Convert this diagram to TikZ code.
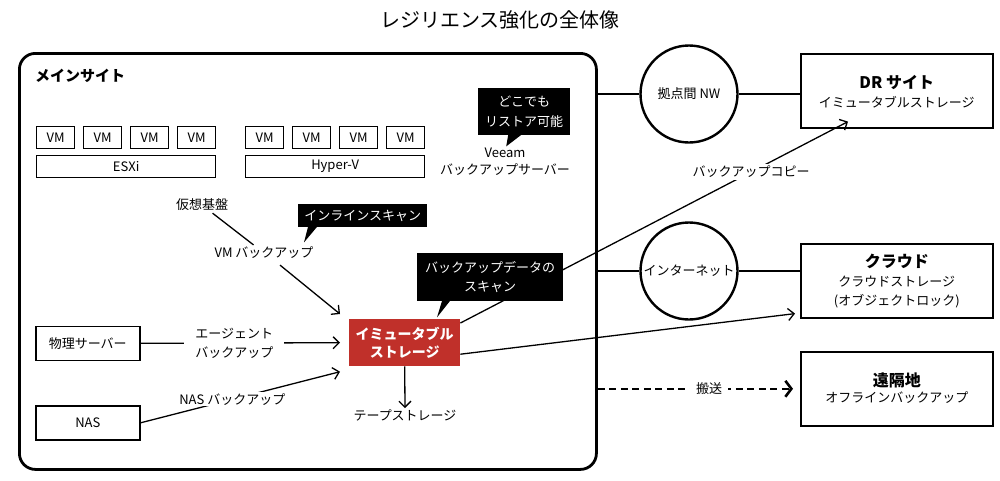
\documentclass[tikz,border=0pt]{standalone}
\usepackage{fontspec}
\setmainfont{Noto Sans CJK JP}
\usetikzlibrary{arrows.meta,calc}
\definecolor{immred}{HTML}{C0302A}
\begin{document}
\begin{tikzpicture}[x=1pt,y=-1pt,
  every node/.style={font=\fontsize{13}{19}\selectfont, inner sep=2pt},
  box/.style={draw, line width=1.4pt, minimum height=22pt, inner sep=0pt, anchor=north west},
  vmbox/.style={box, minimum width=38pt},
  hostbox/.style={box, minimum width=179pt},
  sitebox/.style={draw, line width=1.6pt, minimum width=192pt, minimum height=74pt, anchor=north west},
  srvbox/.style={draw, line width=1.6pt, minimum width=104pt, minimum height=34pt, anchor=north west},
  net/.style={draw, circle, line width=2.4pt, minimum size=97pt, inner sep=0pt},
  callout/.style={fill=black, text=white, align=center, inner sep=0pt, anchor=north west},
  head/.style={font=\bfseries\fontsize{16}{20}\selectfont},
  wlbl/.style={fill=white, align=center, inner sep=2pt},
  arr/.style={line width=1.3pt, -{Straight Barb[length=6pt,width=12pt]}},
  conn/.style={line width=1.3pt},
  netline/.style={line width=2.4pt},
]
\useasboundingbox (0,0) rectangle (1000,480);

% title
\node[font=\fontsize{20}{24}\selectfont] (title) at (500,20) {レジリエンス強化の全体像};

% main site
\node[draw, line width=2.8pt, rounded corners=16pt, minimum width=577pt, minimum height=416pt, anchor=north west] (main) at (18,52) {};
\node[anchor=west, font=\bfseries\fontsize{15}{18}\selectfont] (mainlbl) at (33,76) {メインサイト};

% ESXi
\node[vmbox] (e1) at (36,126) {VM};
\node[vmbox] (e2) at (83,126) {VM};
\node[vmbox] (e3) at (130,126) {VM};
\node[vmbox] (e4) at (177,126) {VM};
\node[hostbox] (esxi) at (36,155) {ESXi};
% Hyper-V
\node[vmbox] (h1) at (245,126) {VM};
\node[vmbox] (h2) at (292,126) {VM};
\node[vmbox] (h3) at (339,126) {VM};
\node[vmbox] (h4) at (386,126) {VM};
\node[hostbox] (hyperv) at (245,155) {Hyper-V};

% Veeam
\node[align=center, font=\fontsize{13}{17}\selectfont] (veeam) at (505,162) {Veeam\\バックアップサーバー};
\node[callout, minimum width=92pt, minimum height=47pt, font=\fontsize{13}{20}\selectfont] (co1) at (478,88) {どこでも\\リストア可能};
\fill ($(co1.south)+(-16,-0.5)$) -- ($(co1.south)+(-3,-0.5)$) -- ($(co1.south)+(-18,11)$) -- cycle;

% VM backup
\node (kaso) at (202,205) {仮想基盤};
\node (vmb) at (264,253) {VM バックアップ};
\node[callout, minimum width=129pt, minimum height=23pt] (co2) at (298,204) {インラインスキャン};
\fill ($(co2.south west)+(10,-0.5)$) -- ($(co2.south west)+(19,-0.5)$) -- ($(co2.south west)+(6,15)$) -- cycle;
\draw[conn] (kaso) -- (vmb);

% immutable storage
\node[fill=immred, text=white, font=\bfseries\fontsize{14}{18}\selectfont, align=center, minimum width=111pt, minimum height=47pt, anchor=north west, inner sep=0pt] (imm) at (349,319) {イミュータブル\\ストレージ};
\draw[arr] ($(vmb.south)+(16,4)$) -- ($(imm.north west)+(-9,-5)$);

% physical server, NAS
\node[srvbox] (phys) at (35,325.5) {物理サーバー};
\node[srvbox] (nas) at (35,405) {NAS};
\draw[arr] (phys.east) -- node[wlbl, pos=0.47, inner xsep=11pt, font=\fontsize{13}{19}\selectfont] {エージェント\\バックアップ} ($(imm.west)+(-9,0)$);
\draw[arr] (nas.east) -- node[wlbl, pos=0.46, inner ysep=1pt] {NAS バックアップ} ($(imm.west)+(-9,29)$);

% tape
\node[inner sep=1pt] (tape) at (405,415) {テープストレージ};
\draw[arr] (imm.south) -- (tape.north);

% remote sites
\node[sitebox] (dr) at (800,53) {};
\node[head] (drh) at ($(dr.north)+(0,29)$) {DR サイト};
\node (drt) at ($(dr.north)+(0,49)$) {イミュータブルストレージ};
\node[sitebox] (cloud) at (800,243) {};
\node[head] (clh) at ($(cloud.north)+(0,18)$) {クラウド};
\node (clt1) at ($(cloud.north)+(0,39)$) {クラウドストレージ};
\node (clt2) at ($(cloud.north)+(0,58)$) {(オブジェクトロック)};
\node[sitebox] (remote) at (800,351) {};
\node[head] (rmh) at ($(remote.north)+(0,29)$) {遠隔地};
\node (rmt) at ($(remote.north)+(0,47)$) {オフラインバックアップ};

% networks
\node[net] (nw) at (689,94) {拠点間 NW};
\node[net, font=\fontsize{13}{19}\selectfont] (inet) at (689,271) {インターネット};
\draw[netline] (main.east |- nw) -- (nw);
\draw[netline] (nw) -- (dr.west |- nw);
\draw[netline] (main.east |- inet) -- (inet);
\draw[netline] (inet) -- (cloud.west |- inet);

% copies
\draw[arr] ($(imm.north east)+(0,4)$) -- node[wlbl, pos=0.75] {バックアップコピー} ($(dr.south west)+(48,-7)$);
\draw[arr] ($(imm.east)+(0,11.5)$) -- ($(cloud.south west)+(-5,-5)$);
\draw[line width=2.6pt, dash pattern=on 7pt off 4.5pt, -{Straight Barb[length=6pt,width=16pt]}] (main.east |- remote) -- node[fill=white, inner xsep=6pt, pos=0.57] {搬送} ($(remote.west)+(-7,0)$);

% scan callout (on top of the copy line)
\node[callout, minimum width=146pt, minimum height=48pt, font=\fontsize{13}{19}\selectfont] (co3) at (417,253) {バックアップデータの\\スキャン};
\fill ($(co3.south west)+(25,-0.5)$) -- ($(co3.south west)+(33,-0.5)$) -- ($(co3.south west)+(20,16)$) -- cycle;
\end{tikzpicture}
\end{document}
